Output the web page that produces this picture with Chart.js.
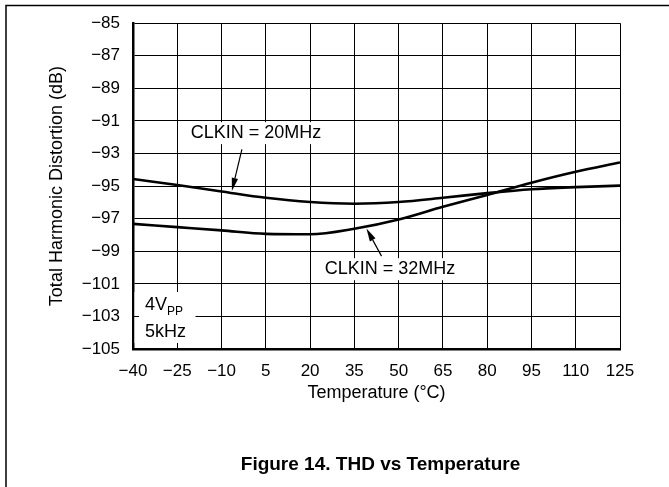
<!DOCTYPE html>
<html>
<head>
<meta charset="UTF-8">
<title>THD vs Temperature</title>
<script src="https://cdn.jsdelivr.net/npm/chart.js@4/dist/chart.umd.min.js"></script>
<style>
  body { margin: 0; background: #fff; }
</style>
</head>
<body>

<canvas id="thdChart" width="669" height="487"></canvas>

<script>
  // temperature in °C, THD in dB, one reading every 15 °C
  const temps = [-40, -25, -10, 5, 20, 35, 50, 65, 80, 95, 110, 125];
  const thd20MHz = [-94.56, -94.93, -95.33, -95.72, -95.98, -96.08, -95.98, -95.72, -95.43, -95.19, -95.06, -94.97];
  const thd32MHz = [-97.32, -97.52, -97.72, -97.93, -97.96, -97.62, -97.05, -96.27, -95.54, -94.79, -94.12, -93.55];

  const xTicks = [-40, -25, -10, 5, 20, 35, 50, 65, 80, 95, 110, 125];
  const yTicks = [-105, -103, -101, -99, -97, -95, -93, -91, -89, -87, -85];

  const FONT = '"Liberation Sans", Arial, Helvetica, sans-serif';

  // tick text uses a real minus sign
  const minus = v => String(v).replace('-', '\u2212');
  const toPoints = ys => temps.map((t, i) => ({ x: t, y: ys[i] }));

  // curve labels with leader arrows, all in data units
  const notes = [
    { text: 'CLKIN = 20MHz', at: [1.7, -91.75], tail: [-3.1, -92.75], tip: [-6.5, -95.3] },
    { text: 'CLKIN = 32MHz', at: [47.1, -100.1], tail: [44.2, -99.3], tip: [39.1, -97.6] }
  ];

  const notesPlugin = {
    id: 'notes',
    beforeDatasetsDraw(chart) {
      const { ctx, scales: { x, y } } = chart;
      ctx.save();
      ctx.font = '18px ' + FONT;
      ctx.fillStyle = '#fff';
      notes.forEach(n => {
        const w = ctx.measureText(n.text).width;
        const cx = x.getPixelForValue(n.at[0]);
        const cy = y.getPixelForValue(n.at[1]);
        ctx.fillRect(cx - w / 2 - 4, cy - 11, w + 8, 22);
      });

      // test conditions box, bottom left corner
      const bx = x.getPixelForValue(-40);
      const by = y.getPixelForValue(-105);
      ctx.fillRect(bx + 1.5, by - 57, 61, 51);

      // grid stubs left showing inside the box
      ctx.strokeStyle = '#000';
      ctx.lineWidth = 1;
      ctx.beginPath();
      const gx = Math.round(x.getPixelForValue(-25)) + 0.5;
      ctx.moveTo(gx, by - 6);
      ctx.lineTo(gx, by);
      const gy = Math.round(y.getPixelForValue(-103)) + 0.5;
      ctx.moveTo(bx, gy);
      ctx.lineTo(bx + 6, gy);
      ctx.stroke();
      ctx.restore();
    },
    afterDatasetsDraw(chart) {
      const { ctx, scales: { x, y } } = chart;
      ctx.save();
      ctx.fillStyle = '#000';
      ctx.strokeStyle = '#000';
      ctx.font = '18px ' + FONT;
      ctx.textAlign = 'center';
      ctx.textBaseline = 'middle';

      notes.forEach(n => {
        ctx.fillText(n.text, x.getPixelForValue(n.at[0]), y.getPixelForValue(n.at[1]));

        const x0 = x.getPixelForValue(n.tail[0]), y0 = y.getPixelForValue(n.tail[1]);
        const x1 = x.getPixelForValue(n.tip[0]), y1 = y.getPixelForValue(n.tip[1]);
        const a = Math.atan2(y1 - y0, x1 - x0);
        const len = 13, half = 3.2;
        const bxp = x1 - len * Math.cos(a), byp = y1 - len * Math.sin(a);

        ctx.lineWidth = 1.2;
        ctx.beginPath();
        ctx.moveTo(x0, y0);
        ctx.lineTo(bxp, byp);
        ctx.stroke();

        ctx.beginPath();
        ctx.moveTo(x1, y1);
        ctx.lineTo(bxp + half * Math.sin(a), byp - half * Math.cos(a));
        ctx.lineTo(bxp - half * Math.sin(a), byp + half * Math.cos(a));
        ctx.closePath();
        ctx.fill();
      });

      // 4 Vpp, 5 kHz
      const lx = x.getPixelForValue(-40) + 12;
      const by = y.getPixelForValue(-105);
      ctx.textAlign = 'left';
      ctx.textBaseline = 'alphabetic';
      ctx.fillText('4V', lx, by - 39);
      const w4 = ctx.measureText('4V').width;
      ctx.font = '12px ' + FONT;
      ctx.fillText('PP', lx + w4, by - 34);
      ctx.font = '18px ' + FONT;
      ctx.fillText('5kHz', lx, by - 12.5);
      ctx.restore();
    },
    afterDraw(chart) {
      const { ctx, chartArea } = chart;
      ctx.save();
      // page frame
      ctx.strokeStyle = '#000';
      ctx.lineWidth = 1.5;
      ctx.beginPath();
      ctx.moveTo(6, chart.height);
      ctx.lineTo(6, 5.5);
      ctx.lineTo(chart.width, 5.5);
      ctx.stroke();

      ctx.fillStyle = '#000';
      ctx.font = 'bold 19px ' + FONT;
      ctx.textAlign = 'center';
      ctx.textBaseline = 'middle';
      ctx.fillText('Figure 14. THD vs Temperature', (chartArea.left + chartArea.right) / 2 + 4, 465);
      ctx.restore();
    }
  };

  new Chart('thdChart', {
    type: 'line',
    data: {
      datasets: [{
        label: 'CLKIN = 20MHz',
        data: toPoints(thd20MHz),
        borderColor: '#000',
        borderWidth: 2.6,
        pointRadius: 0,
        cubicInterpolationMode: 'monotone',
        fill: false
      }, {
        label: 'CLKIN = 32MHz',
        data: toPoints(thd32MHz),
        borderColor: '#000',
        borderWidth: 2.6,
        pointRadius: 0,
        cubicInterpolationMode: 'monotone',
        fill: false
      }]
    },
    options: {
      responsive: false,
      animation: false,
      layout: { padding: { left: 46, top: 20, right: 49, bottom: 83 } },
      plugins: {
        legend: { display: false },
        tooltip: { enabled: false }
      },
      scales: {
        x: {
          type: 'linear',
          min: -40,
          max: 125,
          afterBuildTicks: s => { s.ticks = xTicks.map(v => ({ value: v })); },
          afterFit: s => { s.height = 55; },
          ticks: {
            callback: minus,
            color: '#000',
            font: { family: FONT, size: 17 },
            padding: 12,
            maxRotation: 0,
            autoSkip: false
          },
          grid: { color: '#000', lineWidth: 1, drawTicks: false },
          border: { color: '#000', width: 2.5 },
          title: {
            display: true,
            text: 'Temperature (°C)',
            color: '#000',
            font: { family: FONT, size: 18 },
            padding: { top: 2, bottom: 0 }
          }
        },
        y: {
          min: -105,
          max: -85,
          afterBuildTicks: s => { s.ticks = yTicks.map(v => ({ value: v })); },
          afterFit: s => { s.width = 87; },
          ticks: {
            callback: minus,
            color: '#000',
            font: { family: FONT, size: 17 },
            padding: 13,
            autoSkip: false
          },
          grid: { color: '#000', lineWidth: 1, drawTicks: false },
          border: { color: '#000', width: 2.5 },
          title: {
            display: true,
            text: 'Total Harmonic Distortion (dB)',
            color: '#000',
            font: { family: FONT, size: 18 },
            padding: 0
          }
        }
      }
    },
    plugins: [notesPlugin]
  });
</script>
</body>
</html>
